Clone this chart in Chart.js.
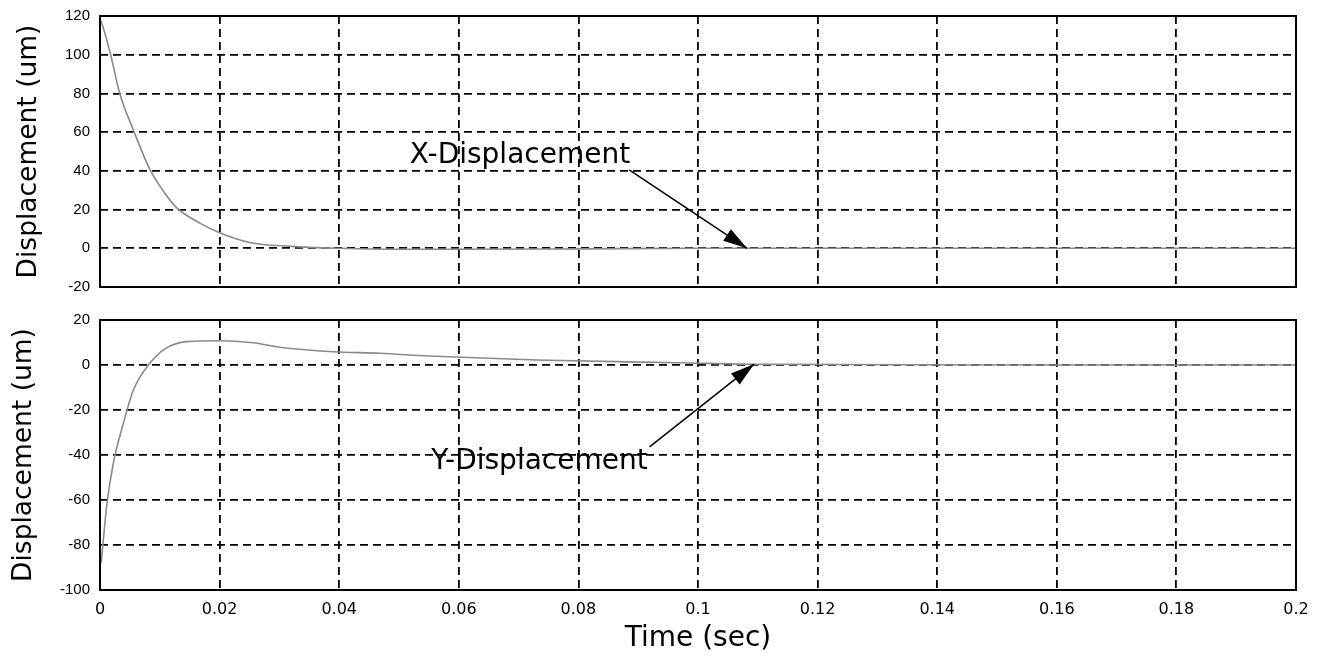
<!DOCTYPE html>
<html>
<head>
<meta charset="utf-8">
<script src="https://cdn.jsdelivr.net/npm/chart.js@4.4.1/dist/chart.umd.min.js"></script>
<style>
  body { margin: 0; background: #fff; }
  .panel { position: absolute; left: 0; }
</style>
</head>
<body>
<div class="panel" style="top:0px"><canvas id="xChart" width="1317" height="300"></canvas></div>
<div class="panel" style="top:300px"><canvas id="yChart" width="1317" height="358"></canvas></div>
<script>
// time axis (sec)
var xTickLabels = ['0', '0.02', '0.04', '0.06', '0.08', '0.1', '0.12', '0.14', '0.16', '0.18', '0.2'];
var topTickLabels = ['-20', '0', '20', '40', '60', '80', '100', '120'];
var bottomTickLabels = ['-100', '-80', '-60', '-40', '-20', '0', '20'];

// X-Displacement (um)
var xDispTime = [0, 0.0002, 0.0017, 0.0033, 0.0056, 0.0083, 0.0105, 0.0128, 0.0167, 0.02, 0.025, 0.032, 0.04, 0.05, 0.06, 0.08, 0.1, 0.12, 0.15, 0.2];
var xDispVal  = [118, 117, 101, 80, 61, 41, 30, 21, 13, 8, 3, 1, 0, -0.5, -0.5, -0.3, 0, 0, 0, 0];

// Y-Displacement (um)
var yDispTime = [0.0002, 0.00055, 0.0011, 0.0022, 0.0039, 0.0056, 0.0083, 0.011, 0.0145, 0.02, 0.0256, 0.030, 0.039, 0.0468, 0.055, 0.073, 0.097, 0.11, 0.15, 0.2];
var yDispVal  = [-88, -78, -63, -44, -26, -11, 0.7, 7.4, 10.4, 10.8, 9.9, 7.9, 5.9, 5.2, 4.0, 2.2, 1.0, 0.3, 0, 0];

function toPoints(ts, vs) {
    var pts = [];
    for (var i = 0; i < ts.length; i++) pts.push({x: ts[i], y: vs[i]});
    return pts;
}

// solid box round the plot area + arrow note
var framePlugin = {
    id: 'frame',
    afterDatasetsDraw: function(chart) {
        var ctx = chart.ctx, a = chart.chartArea;
        ctx.save();
        ctx.strokeStyle = '#000';
        ctx.lineWidth = 2;
        ctx.setLineDash([]);
        ctx.strokeRect(a.left, a.top, a.right - a.left, a.bottom - a.top);

        var note = chart.options.plugins.frame.note;
        if (note) {
            var sx = chart.scales.x, sy = chart.scales.y;
            ctx.fillStyle = '#000';
            ctx.font = '28px "DejaVu Sans"';
            ctx.textBaseline = 'middle';
            ctx.fillText(note.text, sx.getPixelForValue(note.tx), sy.getPixelForValue(note.ty));

            var x0 = sx.getPixelForValue(note.from[0]), y0 = sy.getPixelForValue(note.from[1]);
            var x1 = sx.getPixelForValue(note.to[0]), y1 = sy.getPixelForValue(note.to[1]);
            ctx.lineWidth = 1.5;
            ctx.beginPath();
            ctx.moveTo(x0, y0);
            ctx.lineTo(x1, y1);
            ctx.stroke();
            var ang = Math.atan2(y1 - y0, x1 - x0), len = 24, half = 7;
            ctx.beginPath();
            ctx.moveTo(x1, y1);
            ctx.lineTo(x1 - len * Math.cos(ang) + half * Math.sin(ang), y1 - len * Math.sin(ang) - half * Math.cos(ang));
            ctx.lineTo(x1 - len * Math.cos(ang) - half * Math.sin(ang), y1 - len * Math.sin(ang) + half * Math.cos(ang));
            ctx.closePath();
            ctx.fill();
        }
        ctx.restore();
    }
};

function makeChart(id, opts) {
    return new Chart(document.getElementById(id), {
        type: 'line',
        data: {
            datasets: [{
                data: toPoints(opts.times, opts.values),
                borderColor: '#8a8a8a',
                borderWidth: 1.6,
                pointRadius: 0,
                fill: false,
                cubicInterpolationMode: 'monotone'
            }]
        },
        options: {
            responsive: false,
            animation: false,
            layout: { padding: { top: opts.padTop, right: 21, left: 0, bottom: 0 } },
            plugins: {
                legend: { display: false },
                tooltip: { enabled: false },
                frame: { note: opts.note }
            },
            scales: {
                x: {
                    type: 'linear',
                    min: 0,
                    max: 0.2,
                    afterFit: function(s) {
                        s.height = opts.xHeight;
                        s.paddingLeft = 0;
                        s.paddingRight = 0;
                    },
                    border: { display: false, dash: [8, 5] },
                    grid: { color: '#000', lineWidth: 1.8, drawTicks: false },
                    ticks: {
                        display: opts.showX,
                        stepSize: 0.02,
                        padding: 10,
                        color: '#000',
                        font: { family: 'DejaVu Sans', size: 16 },
                        callback: function(v, i) { return xTickLabels[i]; }
                    },
                    title: {
                        display: opts.showX,
                        text: 'Time (sec)',
                        color: '#000',
                        font: { family: 'DejaVu Sans', size: 28 },
                        padding: { top: 0, bottom: 2 }
                    }
                },
                y: {
                    min: opts.yMin,
                    max: opts.yMax,
                    afterFit: function(s) {
                        s.width = 100;
                        s.paddingTop = 0;
                        s.paddingBottom = 0;
                    },
                    border: { display: false, dash: [8, 5] },
                    grid: { color: '#000', lineWidth: 1.8, drawTicks: false },
                    ticks: {
                        stepSize: 20,
                        padding: 10,
                        color: '#000',
                        font: { family: 'Liberation Sans', size: 15 },
                        callback: function(v, i) { return opts.yLabels[i]; }
                    },
                    title: {
                        display: true,
                        text: 'Displacement (um)',
                        color: '#000',
                        font: { family: 'DejaVu Sans', size: 26.5 },
                        padding: { top: opts.titlePad, bottom: 0 }
                    }
                }
            }
        },
        plugins: [framePlugin]
    });
}

var topChart = makeChart('xChart', {
    times: xDispTime, values: xDispVal,
    yMin: -20, yMax: 120, yLabels: topTickLabels,
    padTop: 16, xHeight: 13, showX: false, titlePad: 13,
    note: { text: 'X-Displacement', tx: 0.0518, ty: 48, from: [0.0885, 40.5], to: [0.1082, 0] }
});

var bottomChart = makeChart('yChart', {
    times: yDispTime, values: yDispVal,
    yMin: -100, yMax: 20, yLabels: bottomTickLabels,
    padTop: 20, xHeight: 68, showX: true, titlePad: 8,
    note: { text: 'Y-Displacement', tx: 0.0554, ty: -43, from: [0.0919, -36.4], to: [0.1094, 0.4] }
});
</script>
</body>
</html>
